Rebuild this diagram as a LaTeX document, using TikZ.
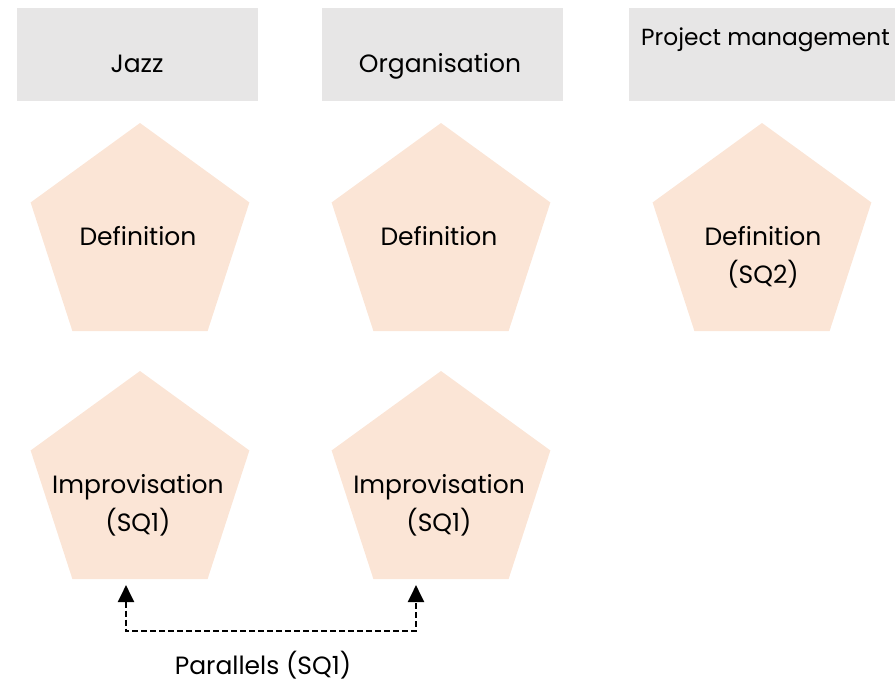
\documentclass[tikz,border=0pt]{standalone}
\usepackage{fontspec}
\setmainfont{Poppins}
\usetikzlibrary{shapes.geometric,arrows.meta}
\definecolor{boxgrey}{HTML}{E7E6E6}
\definecolor{peach}{HTML}{FBE5D6}
\begin{document}
\begin{tikzpicture}[x=1pt,y=-1pt,
    topbox/.style={fill=boxgrey, minimum width=241pt, minimum height=93pt, inner sep=0pt, outer sep=0pt},
    penta/.style={regular polygon, regular polygon sides=5, fill=peach, minimum size=230pt, inner sep=0pt, outer sep=0pt},
    txt/.style={font=\fontsize{25}{38}\selectfont, align=center, anchor=base, inner sep=0pt},
    conn/.style={dashed, dash pattern=on 6pt off 3pt, line width=2.2pt, {Triangle[length=17pt,width=16pt]}-{Triangle[length=17pt,width=16pt]}}]
  \useasboundingbox (0,0) rectangle (895,681);
  \clip (0,0) rectangle (895,681);
  % headers
  \node[topbox] (jazzbox) at (137.5,54.5) {};
  \node[topbox] (orgbox) at (442,54.5) {};
  \node[topbox, minimum width=300pt] (pmbox) at (779,54.5) {};
  \node[txt] (jazz) at (137,72) {Jazz};
  \node[txt] (org) at (440,72) {Organisation};
  \node[txt, font=\fontsize{23.3}{38}\selectfont, anchor=base west] (pm) at (641,45) {Project management};
  % pentagons
  \node[penta] (defjazz) at (140,238) {};
  \node[penta] (deforg) at (441,238) {};
  \node[penta] (defpm) at (762,238) {};
  \node[penta] (impjazz) at (140,486) {};
  \node[penta] (imporg) at (441,486) {};
  \node[txt] (defjazzlbl) at (138,245) {Definition};
  \node[txt] (deforglbl) at (439,245) {Definition};
  \node[txt] (defpmlbl) at (763,283) {Definition\\(SQ2)};
  \node[txt] (impjazzlbl) at (138,531) {Improvisation\\(SQ1)};
  \node[txt] (imporglbl) at (439,531) {Improvisation\\(SQ1)};
  % parallels
  \draw[conn] ([xshift=-14pt,yshift=-6pt]impjazz.south) -- ++(0,46) -| ([xshift=-25pt,yshift=-6pt]imporg.south);
  \node[txt] (parlbl) at (263,674) {Parallels (SQ1)};
\end{tikzpicture}
\end{document}
